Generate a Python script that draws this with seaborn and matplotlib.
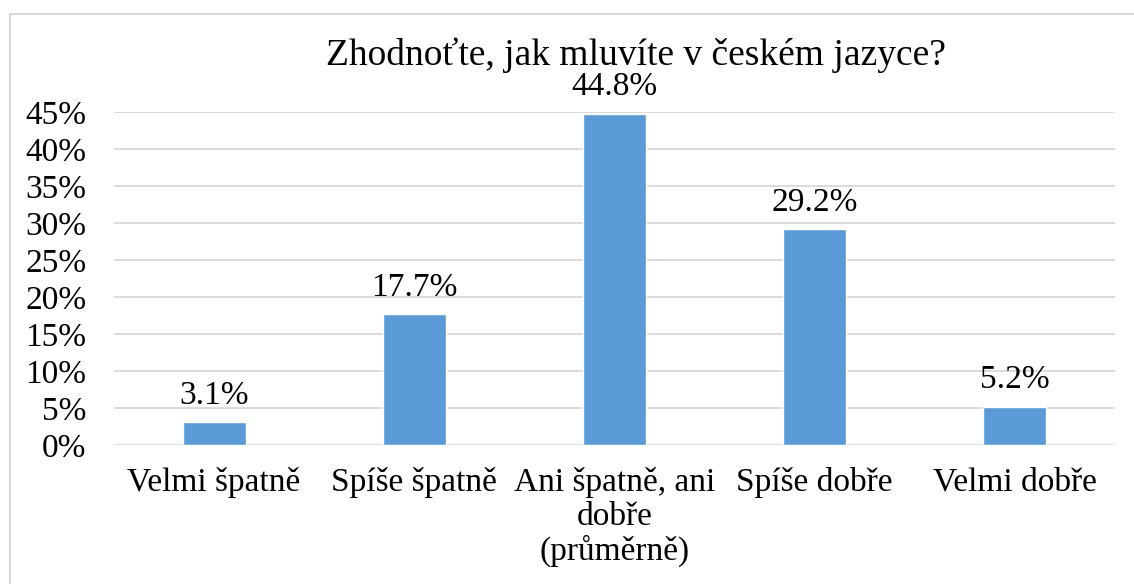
import pandas as pd
import matplotlib.pyplot as plt
import seaborn as sns
from matplotlib.patches import Rectangle
from matplotlib.ticker import FuncFormatter

# Data
categories = ['Velmi špatně', 'Spíše špatně', 'Ani špatně, ani\ndobře\n(průměrně)',
              'Spíše dobře', 'Velmi dobře']
shares = [3.1, 17.7, 44.8, 29.2, 5.2]
yticks = [0, 5, 10, 15, 20, 25, 30, 35, 40, 45]

df = pd.DataFrame({'kategorie': categories, 'podil': shares})

sns.set_theme(style='white')
plt.rcParams['font.family'] = ['Liberation Serif', 'DejaVu Serif']

fig = plt.figure(figsize=(11.34, 5.84), dpi=100)
ax = fig.add_axes([0.1005, 0.238, 0.8825, 0.57])

sns.barplot(data=df, x='kategorie', y='podil', color='#5B9BD5', width=0.315,
            saturation=1, ax=ax, zorder=3)

ax.set_ylim(0, 45)
ax.set_yticks(yticks)
ax.yaxis.set_major_formatter(FuncFormatter(lambda v, p: f'{v:.0f}%'))
ax.grid(axis='y', color='#D9D9D9', linewidth=1.3, zorder=0)
ax.set_axisbelow(True)
for s in ax.spines.values():
    s.set_visible(False)
ax.tick_params(axis='both', length=0, labelsize=24, colors='black')
ax.tick_params(axis='y', pad=20)
ax.tick_params(axis='x', pad=16)
ax.set_xlabel('')
ax.set_ylabel('')
for lbl in ax.get_xticklabels():
    lbl.set_linespacing(1.12)

for i, v in enumerate(shares):
    ax.annotate(f'{v:.1f}%', (i, v), xytext=(0, 8), textcoords='offset points',
                ha='center', va='bottom', fontsize=24, color='black')

fig.text(0.561, 0.906, 'Zhodnoťte, jak mluvíte v českém jazyce?', ha='center',
         va='center', fontsize=27, color='black')

fig.patches.append(Rectangle((10 / 1134, -0.1), 1.2, 1 - 14 / 584 + 0.1,
                             transform=fig.transFigure, fill=False,
                             edgecolor='#D9D9D9', linewidth=1.5))

fig.savefig('out.png', dpi=100)
